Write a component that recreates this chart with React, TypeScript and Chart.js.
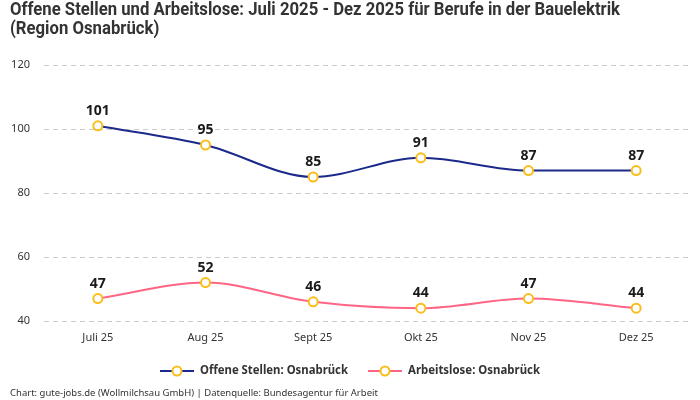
import React, { useEffect, useRef } from "react";
import { Chart, registerables } from "chart.js";

Chart.register(...registerables);

const categories = ["Juli 25", "Aug 25", "Sept 25", "Okt 25", "Nov 25", "Dez 25"];
const offeneStellen = [101, 95, 85, 91, 87, 87];
const arbeitslose = [47, 52, 46, 44, 47, 44];
const yTicks = [40, 60, 80, 100, 120];

const seriesNames = ["Offene Stellen: Osnabrück", "Arbeitslose: Osnabrück"];
const titleLines = [
  "Offene Stellen und Arbeitslose: Juli 2025 - Dez 2025 für Berufe in der Bauelektrik",
  "(Region Osnabrück)",
];
const footerText = "Chart: gute-jobs.de (Wollmilchsau GmbH) | Datenquelle: Bundesagentur für Arbeit";

const BLUE = "#1b2a8a";
const PINK = "#ff6584";
const POINT = "#fbbd1a";
const TEXT = "#333333";
const FONT = "'Noto Sans', sans-serif";
const TITLE_FONT = "Roboto, 'Noto Sans', sans-serif";

function fitText(ctx: CanvasRenderingContext2D, text: string, x: number, y: number, sx: number) {
  ctx.save();
  ctx.translate(x, y);
  ctx.scale(sx, 1);
  ctx.fillText(text, 0, 0);
  ctx.restore();
}

const decorPlugin = {
  id: "decor",
  afterDatasetsDraw(chart: any) {
    const ctx = chart.ctx as CanvasRenderingContext2D;
    ctx.save();
    ctx.font = `bold 14px ${FONT}`;
    ctx.fillStyle = "#1a1a1a";
    ctx.textAlign = "center";
    ctx.textBaseline = "middle";
    chart.data.datasets.forEach((ds: any, i: number) => {
      const meta = chart.getDatasetMeta(i);
      meta.data.forEach((pt: any, j: number) => {
        ctx.fillText(String(ds.data[j]), pt.x, pt.y - 15);
      });
    });
    ctx.restore();
  },
  afterDraw(chart: any) {
    const ctx = chart.ctx as CanvasRenderingContext2D;
    ctx.save();
    ctx.fillStyle = TEXT;
    ctx.font = `bold 18px ${TITLE_FONT}`;
    ctx.textAlign = "left";
    ctx.textBaseline = "middle";
    const w = ctx.measureText(titleLines[0]).width;
    const sx = Math.min(1, 610 / w);
    fitText(ctx, titleLines[0], 10, 10, sx);
    fitText(ctx, titleLines[1], 10, 29, sx);

    const items = [
      { name: seriesNames[0], color: BLUE, x: 160, target: 148 },
      { name: seriesNames[1], color: PINK, x: 368, target: 132 },
    ];
    const ly = 371;
    items.forEach((it) => {
      ctx.strokeStyle = it.color;
      ctx.lineWidth = 2;
      ctx.beginPath();
      ctx.moveTo(it.x, ly);
      ctx.lineTo(it.x + 34, ly);
      ctx.stroke();
      ctx.beginPath();
      ctx.arc(it.x + 17, ly, 4.5, 0, Math.PI * 2);
      ctx.fillStyle = "#ffffff";
      ctx.fill();
      ctx.strokeStyle = POINT;
      ctx.lineWidth = 2;
      ctx.stroke();
      ctx.fillStyle = TEXT;
      ctx.font = `bold 12px ${FONT}`;
      ctx.textAlign = "left";
      ctx.textBaseline = "middle";
      const tw = ctx.measureText(it.name).width;
      fitText(ctx, it.name, it.x + 40, ly, Math.min(1, it.target / tw));
    });

    ctx.font = `9.5px ${FONT}`;
    ctx.fillStyle = TEXT;
    ctx.textAlign = "left";
    ctx.textBaseline = "middle";
    ctx.fillText(footerText, 10, 393);
    ctx.restore();
  },
};

export default function App() {
  const ref = useRef<HTMLCanvasElement | null>(null);
  useEffect(() => {
    document.body.style.margin = "0";
    if (!ref.current) return;
    const pointCommon = {
      pointRadius: 4.5,
      pointHoverRadius: 4.5,
      pointBackgroundColor: "#ffffff",
      pointBorderColor: POINT,
      pointBorderWidth: 2,
      borderWidth: 2,
      cubicInterpolationMode: "monotone" as const,
      fill: false,
    };
    const chart = new Chart(ref.current, {
      type: "line",
      data: {
        labels: categories,
        datasets: [
          { label: seriesNames[0], data: offeneStellen, borderColor: BLUE, ...pointCommon },
          { label: seriesNames[1], data: arbeitslose, borderColor: PINK, ...pointCommon },
        ],
      },
      options: {
        responsive: false,
        animation: false,
        layout: { padding: { left: 0, right: 10, top: 65, bottom: 54 } },
        plugins: {
          legend: { display: false },
          title: { display: false },
          tooltip: { enabled: false },
        },
        scales: {
          x: {
            offset: true,
            grid: { display: false },
            border: { display: false },
            ticks: { color: TEXT, font: { family: FONT, size: 11 }, padding: 2 },
            afterFit(scale: any) {
              scale.height = 25;
            },
          },
          y: {
            min: 40,
            max: 120,
            afterBuildTicks(scale: any) {
              scale.ticks = yTicks.map((v) => ({ value: v }));
            },
            grid: { color: "#cccccc", drawTicks: false },
            border: { display: false, dash: [5, 4] },
            ticks: {
              color: TEXT,
              font: { family: FONT, size: 11 },
              padding: 14,
            },
            afterFit(scale: any) {
              scale.width = 44;
            },
          },
        },
      },
      plugins: [decorPlugin],
    });
    return () => chart.destroy();
  }, []);
  return (
    <div style={{ position: "absolute", left: 0, top: 0, width: 700, height: 400, background: "#fff" }}>
      <canvas ref={ref} width={700} height={400} />
    </div>
  );
}
